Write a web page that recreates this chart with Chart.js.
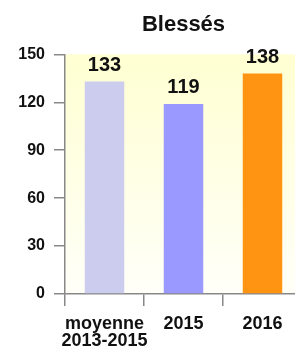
<!DOCTYPE html>
<html>
<head>
<meta charset="utf-8">
<style>
  html, body { margin: 0; padding: 0; background: #fff; overflow: hidden; }
  #wrap { width: 310px; height: 350px; }
</style>
</head>
<body>
<div id="wrap"><canvas id="myChart" width="310" height="350"></canvas></div>
<script src="https://cdn.jsdelivr.net/npm/chart.js"></script>
<script>
// données
var categories = [['moyenne', '2013-2015'], '2015', '2016'];
var blesses = [133, 119, 138];
var barColors = ['#ccccee', '#9999ff', '#ff9312'];
var yTicks = [0, 30, 60, 90, 120, 150];

Chart.defaults.font.family = '"Liberation Sans", Arial, sans-serif';
Chart.defaults.font.weight = 'bold';
Chart.defaults.color = '#111';

// fond dégradé jaune -> blanc
var fondDegrade = {
    id: 'fondDegrade',
    beforeDraw: function(chart) {
        var a = chart.chartArea;
        var ctx = chart.ctx;
        var g = ctx.createLinearGradient(0, a.top, 0, a.bottom + 40);
        g.addColorStop(0, '#ffffd2');
        g.addColorStop(1, '#ffffff');
        ctx.save();
        ctx.fillStyle = g;
        ctx.fillRect(a.left, a.top, a.right - a.left, a.bottom - a.top);
        ctx.restore();
    }
};

// valeurs au-dessus des barres
var valeurs = {
    id: 'valeurs',
    afterDatasetsDraw: function(chart) {
        var ctx = chart.ctx;
        var meta = chart.getDatasetMeta(0);
        ctx.save();
        ctx.font = 'bold 20px "Liberation Sans", Arial, sans-serif';
        ctx.fillStyle = '#111';
        ctx.textAlign = 'center';
        ctx.textBaseline = 'alphabetic';
        meta.data.forEach(function(bar, i) {
            ctx.fillText(blesses[i], bar.x, bar.y - 11);
        });
        ctx.restore();
    }
};

var ctx = document.getElementById('myChart').getContext('2d');
new Chart(ctx, {
    type: 'bar',
    data: {
        labels: categories,
        datasets: [{
            data: blesses,
            backgroundColor: barColors,
            barPercentage: 0.5,
            categoryPercentage: 1.0
        }]
    },
    options: {
        responsive: false,
        animation: false,
        layout: { padding: { left: 0, right: 8, top: 0, bottom: 0 } },
        plugins: {
            legend: { display: false },
            tooltip: { enabled: false },
            title: {
                display: true,
                fullSize: false, // centré au-dessus de la zone du graphique
                text: 'Blessés',
                font: { size: 22, weight: 'bold' },
                color: '#111',
                padding: { top: 12, bottom: 16 }
            }
        },
        scales: {
            y: {
                min: 0,
                max: 150,
                afterFit: function(scale) { scale.width = 65; },
                afterBuildTicks: function(scale) {
                    scale.ticks = yTicks.map(function(v) { return { value: v }; });
                },
                ticks: { padding: 9, font: { size: 16, weight: 'bold' }, color: '#111' },
                grid: { drawOnChartArea: false, drawTicks: true, tickLength: 11, color: '#888', lineWidth: 1.5 },
                border: { display: true, color: '#888', width: 1.5 }
            },
            x: {
                afterFit: function(scale) { scale.height = 56; },
                ticks: {
                    padding: 9, autoSkip: false, maxRotation: 0, minRotation: 0,
                    font: { size: 18, weight: 'bold', lineHeight: 0.95 }, color: '#111'
                },
                grid: { drawOnChartArea: false, drawTicks: true, tickLength: 12, color: '#888', lineWidth: 1.5, offset: true },
                border: { display: true, color: '#888', width: 1.5 }
            }
        }
    },
    plugins: [fondDegrade, valeurs]
});
</script>
</body>
</html>
